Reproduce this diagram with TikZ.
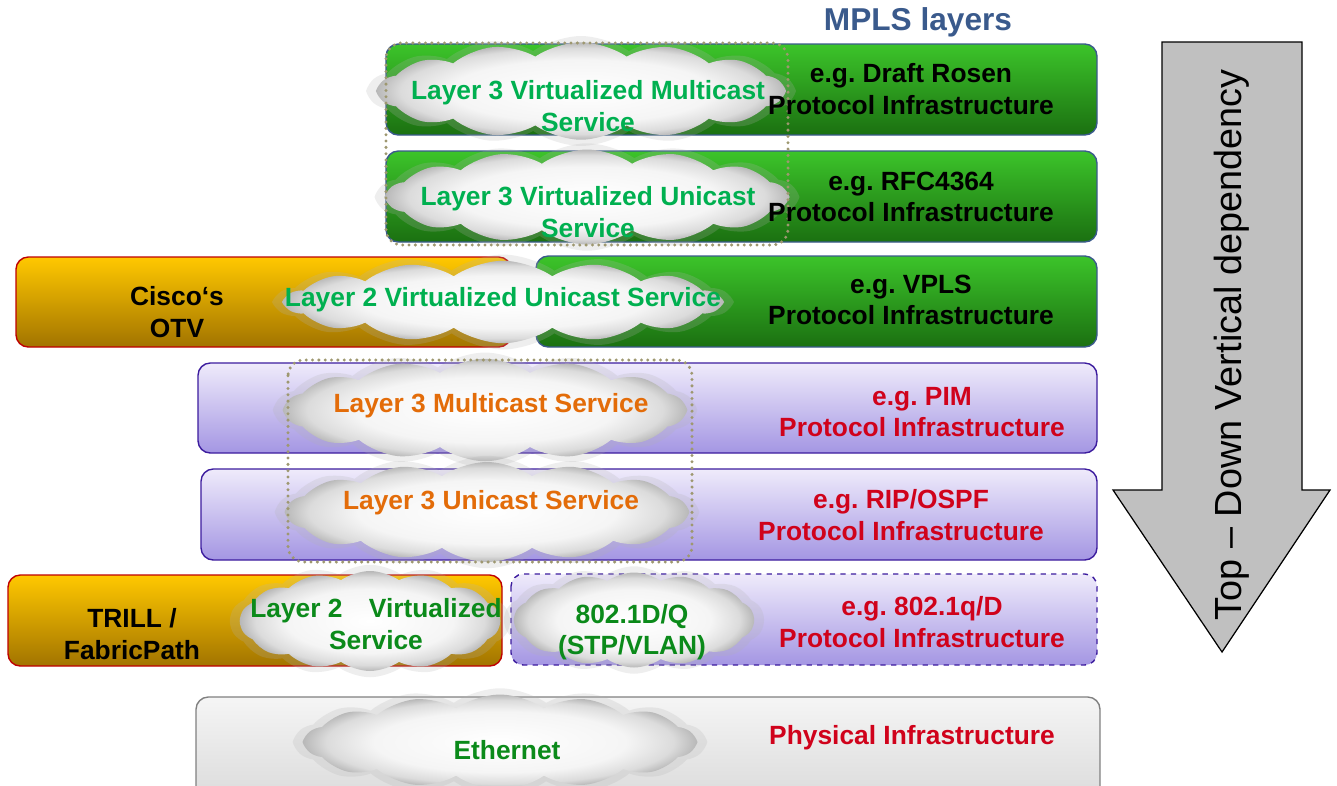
\documentclass[tikz,border=0pt]{standalone}
\usepackage{fontspec}
\setmainfont{Liberation Sans}
\usetikzlibrary{shapes.symbols}
\frenchspacing

\definecolor{mplsblue}{HTML}{3A5A8C}
\definecolor{svcgreen}{HTML}{00B050}
\definecolor{ethgreen}{HTML}{0B8A1A}
\definecolor{protored}{HTML}{D0021B}
\definecolor{svcorange}{HTML}{E36C09}
\definecolor{greentop}{HTML}{3CC42A}
\definecolor{greenbot}{HTML}{1B7011}
\definecolor{goldtop}{HTML}{FFC800}
\definecolor{goldbot}{HTML}{A27400}
\definecolor{lilactop}{HTML}{EFEBFB}
\definecolor{lilacbot}{HTML}{A496E3}
\definecolor{lilacedge}{HTML}{3C1C9E}
\definecolor{dotline}{HTML}{9E9870}
\definecolor{arrowgray}{HTML}{C0C0C0}

\pgfdeclareradialshading{cloudfill}{\pgfpoint{0bp}{0bp}}{%
  color(0bp)=(white); color(16bp)=(black!4); color(22bp)=(black!14);
  color(25bp)=(black!28); color(50bp)=(black!28)}

\tikzset{
  mpls/.style={rounded corners=7pt, line width=0.8pt, draw=mplsblue, top color=greentop, bottom color=greenbot},
  cisco/.style={rounded corners=7pt, line width=0.8pt, draw=red!75!black, top color=goldtop, bottom color=goldbot},
  ipbox/.style={rounded corners=7pt, line width=0.8pt, draw=lilacedge, top color=lilactop, bottom color=lilacbot},
  physbox/.style={rounded corners=7pt, line width=0.8pt, draw=black!50, top color=black!4, bottom color=black!14},
  svcframe/.style={rounded corners=9pt, draw=dotline, line width=1.9pt, dash pattern=on 0pt off 3.6pt, line cap=round},
  puff/.style={cloud, cloud puffs=14, cloud puff arc=70, cloud ignores aspect, inner sep=0pt, shade, shading=cloudfill},
  halo/.style={cloud, cloud puffs=14, cloud puff arc=70, cloud ignores aspect, inner sep=0pt, fill=black!30, opacity=0.22},
  lbl/.style={font=\bfseries\fontsize{15}{18}\selectfont, align=center, inner sep=0pt}
}

\begin{document}
\begin{tikzpicture}[x=0.02cm, y=-0.02cm]
    \useasboundingbox (0,0) rectangle (1337,785);

    % MPLS boxes
    \path[mpls] (386,44) rectangle (1097,135);
    \path[mpls] (386,151) rectangle (1097,242);
    \path[mpls] (536,256) rectangle (1097,347);

    % Cisco boxes
    \path[cisco] (16,257) rectangle (511,347);
    \path[cisco] (8,575) rectangle (502,666);

    % IP boxes
    \path[ipbox] (198,363) rectangle (1097,453);
    \path[ipbox] (201,469) rectangle (1097,560);
    \path[ipbox, dashed] (511,574) rectangle (1097,665);

    % Physical box
    \path[physbox] (196,697) rectangle (1100,800);

    % Clouds (halo first, then the cloud)
    \node[halo, minimum width=8.5cm, minimum height=2.2cm] (h1) at (581,91) {};
    \node[puff, minimum width=8.1cm, minimum height=1.95cm] (c1) at (581,91) {};
    \node[halo, minimum width=8.4cm, minimum height=2.15cm] (h2) at (587,197) {};
    \node[puff, minimum width=8.0cm, minimum height=1.9cm] (c2) at (587,197) {};
    \node[halo, minimum width=9.1cm, minimum height=1.9cm] (h3) at (503,302) {};
    \node[puff, minimum width=8.7cm, minimum height=1.65cm] (c3) at (503,302) {};
    \node[halo, minimum width=8.4cm, minimum height=2.3cm] (h4) at (485,410) {};
    \node[puff, minimum width=8.0cm, minimum height=2.05cm] (c4) at (485,410) {};
    \node[halo, minimum width=8.4cm, minimum height=2.25cm] (h5) at (487,512) {};
    \node[puff, minimum width=8.0cm, minimum height=2.0cm] (c5) at (487,512) {};
    \node[halo, minimum width=5.6cm, minimum height=2.25cm] (h6) at (370,621) {};
    \node[puff, minimum width=5.2cm, minimum height=2.0cm] (c6) at (370,621) {};
    \node[halo, minimum width=5.2cm, minimum height=2.15cm] (h7) at (634,620) {};
    \node[puff, minimum width=4.8cm, minimum height=1.9cm] (c7) at (634,620) {};
    \node[halo, minimum width=8.2cm, minimum height=2.15cm] (h8) at (500,742) {};
    \node[puff, minimum width=7.8cm, minimum height=1.9cm] (c8) at (500,742) {};

    % Dotted service frames
    \draw[svcframe] (386,43) rectangle (788,245);
    \draw[svcframe] (288,360) rectangle (692,562);

    % Title
    \node[font=\bfseries\fontsize{18}{21}\selectfont, text=mplsblue] (title) at (918,22) {MPLS layers};

    % Protocol labels
    \node[lbl] (rosen) at (911,89) {e.g. Draft Rosen\\Protocol Infrastructure};
    \node[lbl] (rfc) at (911,197) {e.g. RFC4364\\Protocol Infrastructure};
    \node[lbl] (vpls) at (911,300) {e.g. VPLS\\Protocol Infrastructure};
    \node[lbl, text=protored] (pim) at (922,412) {e.g. PIM\\Protocol Infrastructure};
    \node[lbl, text=protored] (ospf) at (901,515) {e.g. RIP/OSPF\\Protocol Infrastructure};
    \node[lbl, text=protored] (dotq) at (922,622) {e.g. 802.1q/D\\Protocol Infrastructure};
    \node[lbl, text=protored] (phys) at (912,738) {Physical Infrastructure};

    % Cisco labels
    \node[lbl] (otv) at (177,312) {Cisco‘s\\OTV};
    \node[lbl] (trill) at (132,634) {TRILL /\\FabricPath};

    % Service labels
    \node[lbl, text=svcgreen] (l3vm) at (588,106) {Layer 3 Virtualized Multicast\\Service};
    \node[lbl, text=svcgreen] (l3vu) at (588,212) {Layer 3 Virtualized Unicast\\Service};
    \node[lbl, text=svcgreen] (l2vu) at (503,300) {Layer 2 Virtualized Unicast Service};
    \node[lbl, text=svcorange] (l3m) at (491,406) {Layer 3 Multicast Service};
    \node[lbl, text=svcorange] (l3u) at (491,503) {Layer 3 Unicast Service};
    \node[lbl, text=ethgreen] (l2v) at (376,624) {Layer 2\quad Virtualized\\Service};
    \node[lbl, text=ethgreen] (stp) at (632,632) {802.1D/Q\\(STP/VLAN)};
    \node[lbl, text=ethgreen] (eth) at (507,750) {Ethernet};

    % Dependency arrow
    \draw[fill=arrowgray, line width=0.7pt] (1162,42) -- (1302,42) -- (1302,490) -- (1330,490)
        -- (1222,652) -- (1113,490) -- (1162,490) -- cycle;
    \node[rotate=90, font=\fontsize{21.5}{25}\selectfont] (dep) at (1232,345) {Top – Down Vertical dependency};
\end{tikzpicture}
\end{document}
